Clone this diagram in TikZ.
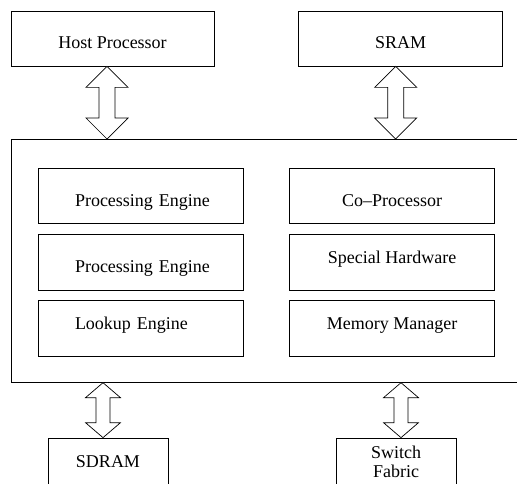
\documentclass[tikz,border=0pt]{standalone}
\usepackage{fontspec}
\setmainfont{Liberation Serif}
\usetikzlibrary{positioning, calc}

\newcommand{\busarrow}[5]{%
  \draw[bus] let \p1=(#1), \p2=(#2) in
    (\x1,\y1) -- (\x1+#3,\y1-#5) -- (\x1+#4,\y1-#5) -- (\x1+#4,\y2+#5)
    -- (\x1+#3,\y2+#5) -- (\x1,\y2) -- (\x1-#3,\y2+#5) -- (\x1-#4,\y2+#5)
    -- (\x1-#4,\y1-#5) -- (\x1-#3,\y1-#5) -- cycle;}

\begin{document}
\begin{tikzpicture}[x=1pt, y=-1pt, every node/.style={font=\fontsize{18}{19}\selectfont},
    box/.style={draw, line width=0.7pt, inner sep=0pt},
    lowtext/.style={text height=20pt, text depth=0pt},
    hightext/.style={text height=12pt, text depth=10pt},
    topbox/.style={box, lowtext, minimum width=203pt, minimum height=55pt},
    unitbox/.style={box, minimum width=205pt, minimum height=55.5pt},
    leftunit/.style={unitbox, text width=131pt, align=left},
    portbox/.style={box, minimum width=120pt, minimum height=47pt, align=center},
    bus/.style={draw, fill=white, line width=0.7pt}]

    \useasboundingbox (0,0) rectangle (517,483);
    \clip (0,0) rectangle (517,483);

    % Nodes
    \node[topbox] (host) at (112.5,38.5) {Host Processor};
    \node[topbox, minimum width=204pt] (sram) [right=84pt of host] {SRAM};

    \node[box, minimum width=530pt, minimum height=243pt, anchor=north west] (core) at (10.7,139) {};

    \node[leftunit, lowtext] (pe1) at (140.5,196) {\mbox{Processing Engine}};
    \node[leftunit, lowtext] (pe2) [below=10pt of pe1] {\mbox{Processing Engine}};
    \node[leftunit, hightext] (lookup) [below=10pt of pe2] {Lookup Engine};

    \node[unitbox, lowtext] (copro) [right=46pt of pe1] {Co--Processor};
    \node[unitbox, hightext] (special) [below=10pt of copro] {Special Hardware};
    \node[unitbox, hightext] (memman) [below=10pt of special] {Memory Manager};

    \node[portbox] (sdram) at (108,461.5) {SDRAM};
    \node[portbox] (switch) at (396,461.5) {Switch\\Fabric};

    % Bus Arrows
    \coordinate (hostbus) at ([xshift=-5.5pt]host.south);
    \coordinate (srambus) at ([xshift=-5pt]sram.south);
    \coordinate (sdrambus) at ([xshift=-5pt]sdram.north);
    \coordinate (switchbus) at ([xshift=5pt]switch.north);

    \busarrow{hostbus}{hostbus |- core.north}{21pt}{8pt}{21pt}
    \busarrow{srambus}{srambus |- core.north}{21pt}{8pt}{21pt}
    \busarrow{sdrambus |- core.south}{sdrambus}{17.5pt}{7pt}{15pt}
    \busarrow{switchbus |- core.south}{switchbus}{17.5pt}{7pt}{15pt}

\end{tikzpicture}
\end{document}
